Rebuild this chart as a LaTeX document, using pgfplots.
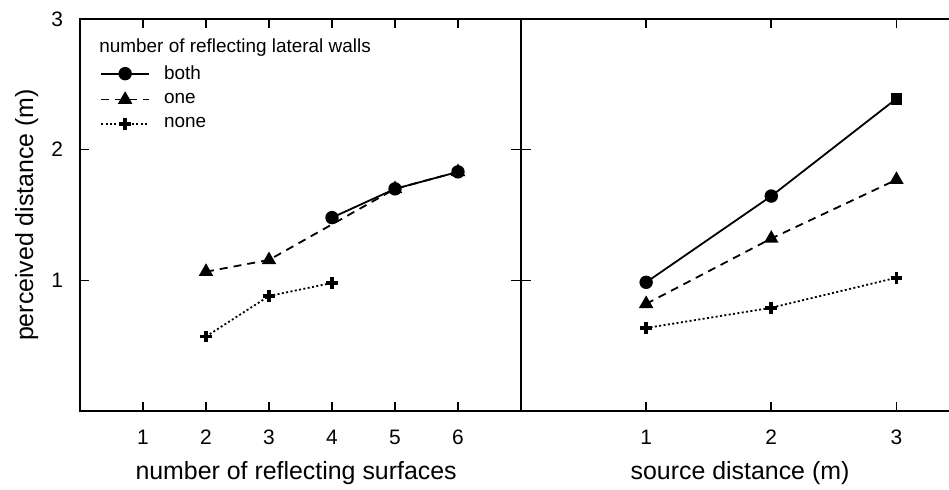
\documentclass[border=0pt]{standalone}
\usepackage{fontspec}
\setmainfont{Liberation Sans}
\usepackage{pgfplots}
\pgfplotsset{compat=1.18}
\newcommand{\tickfont}{\fontsize{10.5}{12}\selectfont}
\newcommand{\labfont}{\fontsize{12.5}{15}\selectfont}
\newcommand{\legfont}{\fontsize{9.5}{11}\selectfont}
\begin{document}
\begin{tikzpicture}
\path[use as bounding box] (-40bp,-39.5bp) rectangle (434.5bp,205.5bp);
\pgfplotsset{
  common/.style={
    scale only axis, height=196bp, ymin=0, ymax=3,
    axis line style={line width=1bp},
    tick style={line width=0.8bp,black},
    major tick length=4.5bp, tick align=inside,
    /pgf/number format/assume math mode=true,
    xticklabel={\tickfont\pgfmathprintnumber{\tick}},
    yticklabel={\tickfont\pgfmathprintnumber{\tick}},
    xticklabel style={yshift=-6bp},
    yticklabel style={xshift=-5bp},
    clip=false,
  },
  sboth/.style={line width=0.9bp, black, mark=*, mark size=2.9bp, mark options={solid}},
  sone/.style={line width=0.9bp, black, dash pattern=on 4bp off 3bp, mark=triangle*, mark size=3.3bp, mark options={solid}},
  snone/.style={line width=0.9bp, black, dash pattern=on 1bp off 1.2bp, mark=+, mark size=2.9bp, mark options={solid, line width=1.8bp}},
}
\begin{axis}[common,
  at={(0bp,0bp)}, anchor=south west, width=220.5bp,
  xmin=0, xmax=7, xtick={1,2,3,4,5,6}, ytick={1,2,3}, ytick pos=left,
  xlabel={\labfont number of reflecting surfaces},
  ylabel={\labfont perceived distance (m)},
  every axis x label/.style={at={(axis description cs:0.49,-0.158)},anchor=center},
  every axis y label/.style={at={(axis description cs:-0.121,0.5)},anchor=center,rotate=90},
  legend style={at={(0.045,0.893)}, anchor=north west, draw=none, fill=none,
    inner sep=0pt, row sep=1.5bp,
    /tikz/every odd column/.append style={column sep=5bp}},
  legend cell align=left,
  legend image code/.code={\draw[mark repeat=2,mark phase=2,#1] plot coordinates {(0bp,0bp) (12bp,0bp) (24bp,0bp)};},
]
\addplot[sone, forget plot] coordinates {(2,1.066) (3,1.156) (5,1.70) (6,1.83)};
\addplot[snone, forget plot] coordinates {(2,0.57) (3,0.88) (4,0.98)};
\addplot[sboth, forget plot] coordinates {(4,1.48) (5,1.70) (6,1.83)};
\addlegendimage{sboth}\addlegendentry{\legfont both}
\addlegendimage{sone}\addlegendentry{\legfont one}
\addlegendimage{snone}\addlegendentry{\legfont none}
\node[anchor=west, inner sep=0pt] at (rel axis cs:0.043,0.926) {\legfont number of reflecting lateral walls};
\end{axis}
\begin{axis}[common,
  at={(220.5bp,0bp)}, anchor=south west, width=216bp,
  xmin=0, xmax=3.452, xtick={1,2,3}, ytick=\empty, ytick pos=left,
  xlabel={\labfont source distance (m)},
  every axis x label/.style={at={(axis description cs:0.507,-0.158)},anchor=center},
]
\addplot[sone] coordinates {(1,0.82) (2,1.32) (3,1.77)};
\addplot[snone] coordinates {(1,0.635) (2,0.79) (3,1.02)};
\addplot[sboth, mark indices={1,2}] coordinates {(1,0.985) (2,1.645) (3,2.39)};
\addplot[only marks, mark=square*, mark size=2.6bp, black] coordinates {(3,2.39)};
\end{axis}
\begin{axis}[
  at={(220.5bp,0bp)}, anchor=south west, width=216bp, height=196bp, scale only axis,
  xmin=0, xmax=3.452, ymin=0, ymax=3,
  hide x axis, axis y line*=left, y axis line style={draw=none},
  ytick={1,2}, yticklabels={}, tick align=center, major tick length=10bp,
  tick style={line width=0.8bp,black},
]
\end{axis}
\end{tikzpicture}
\end{document}
